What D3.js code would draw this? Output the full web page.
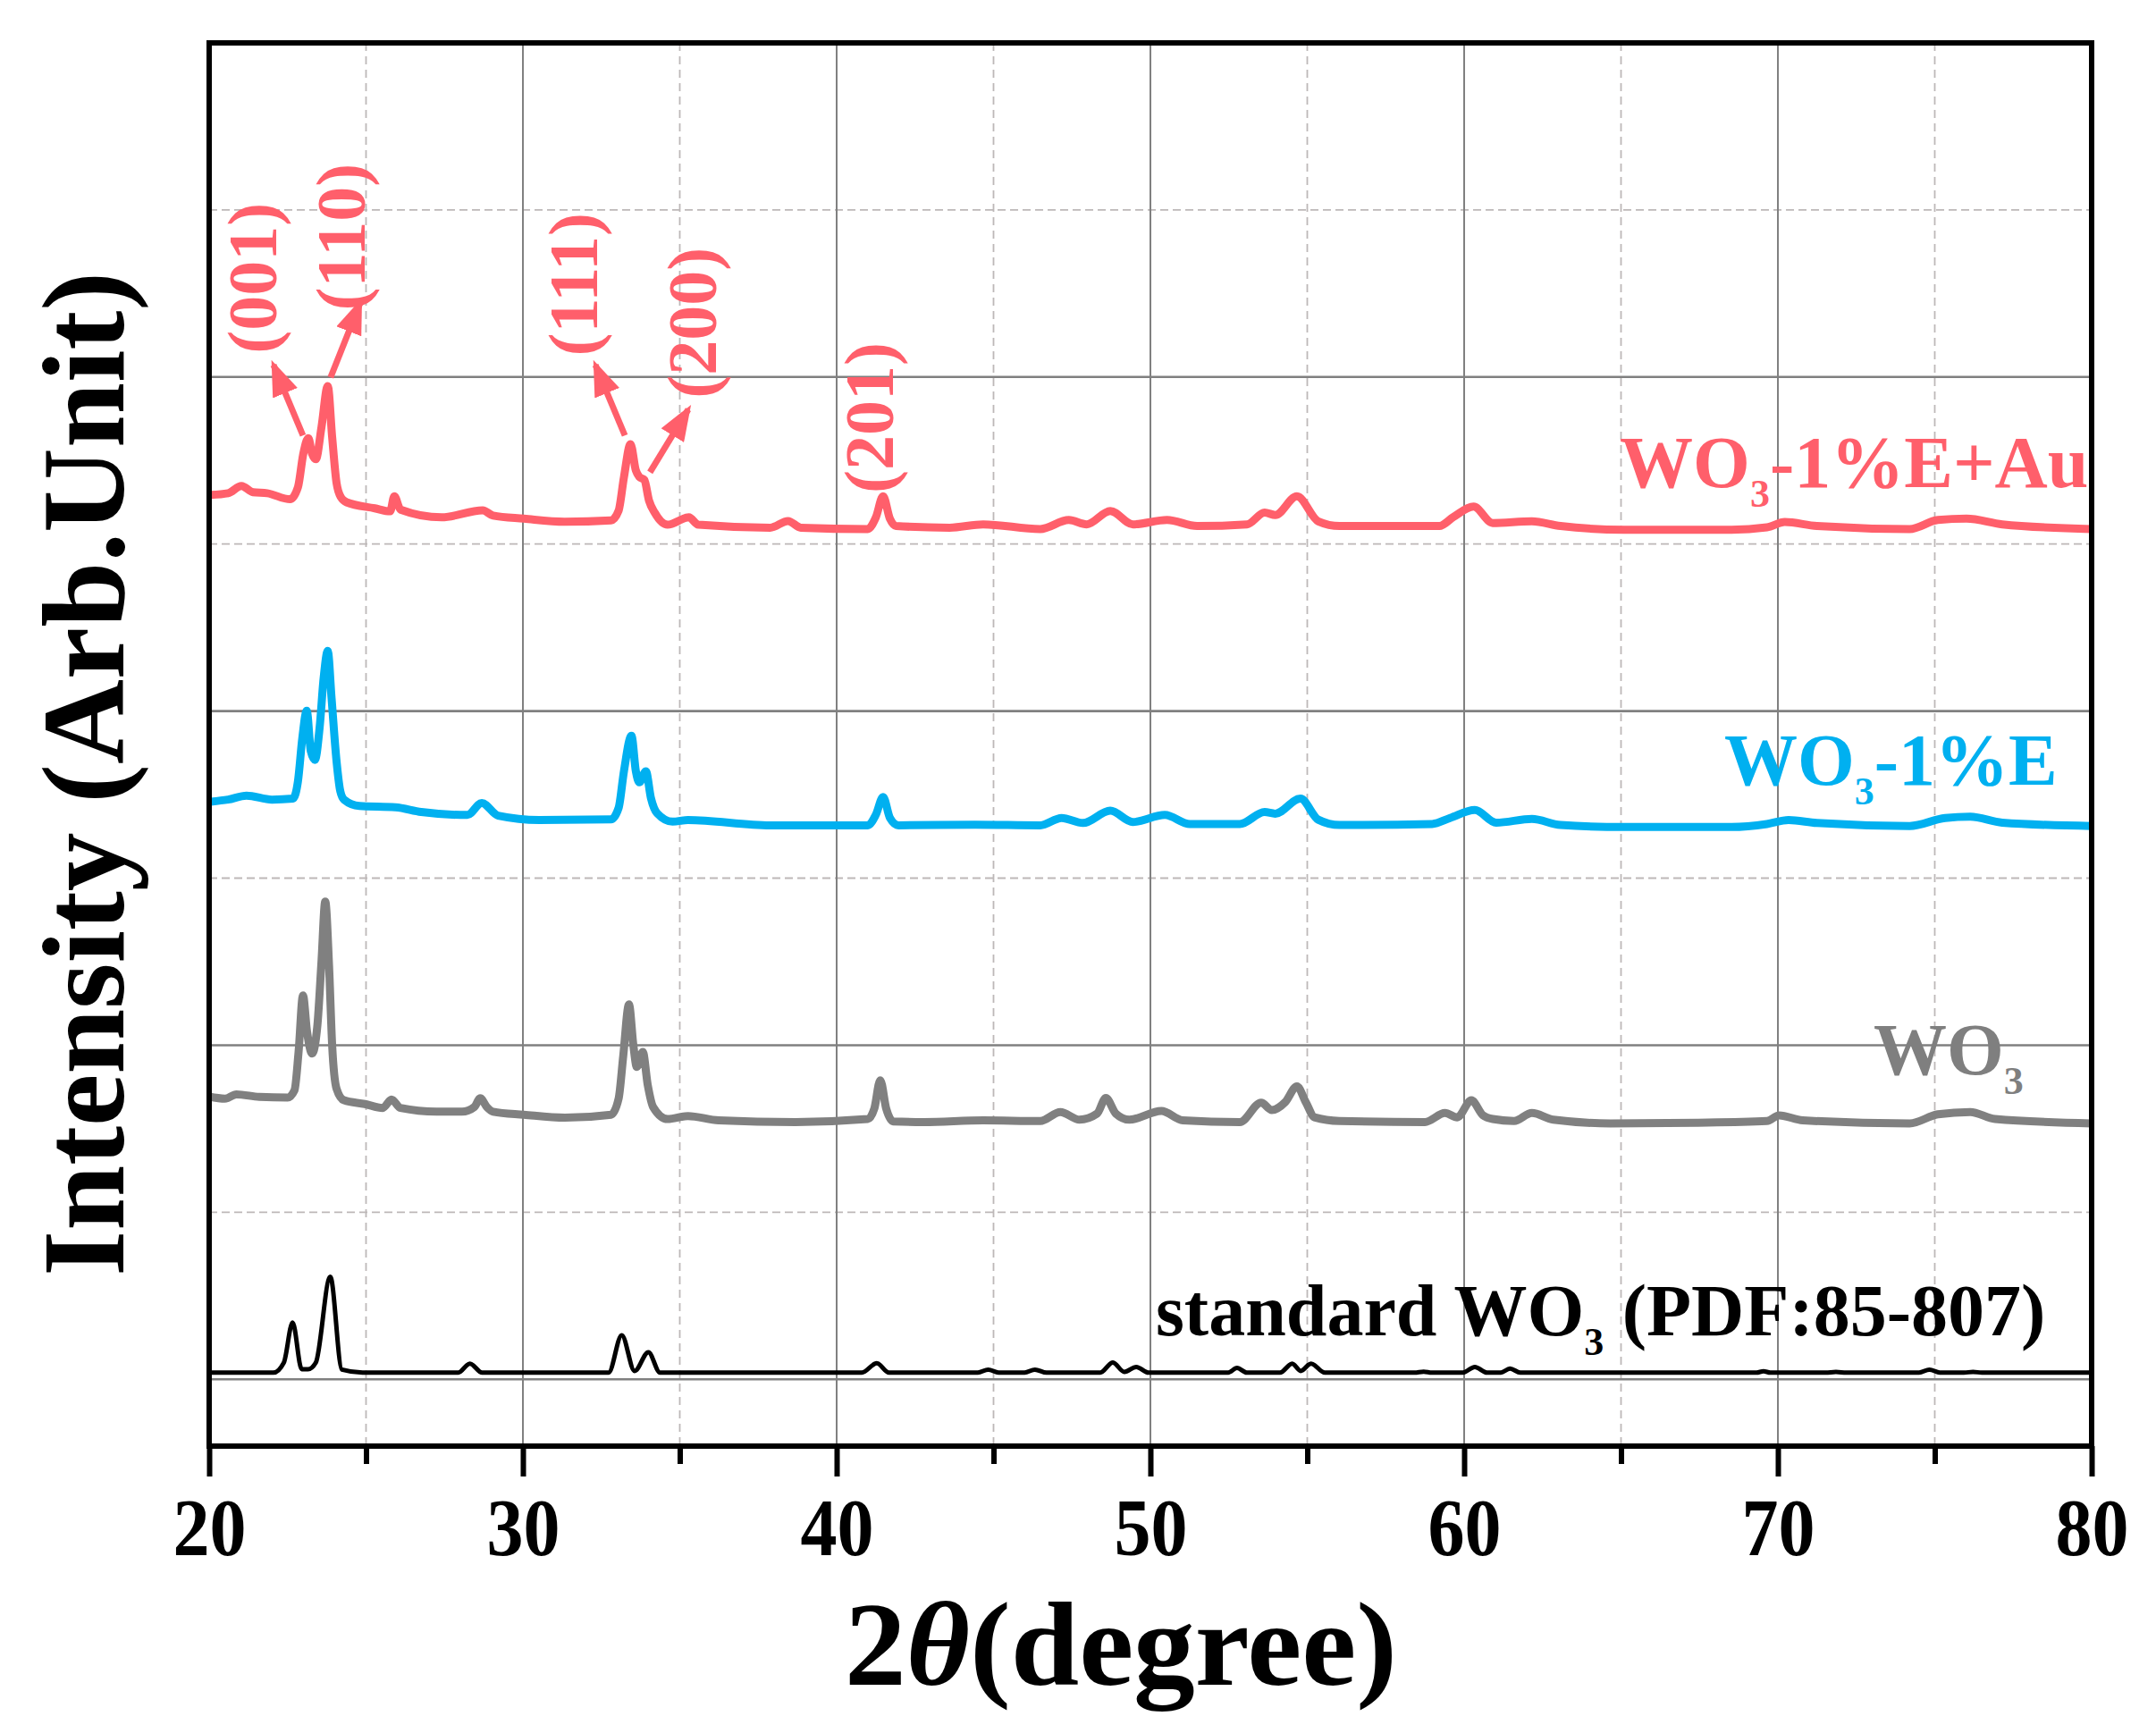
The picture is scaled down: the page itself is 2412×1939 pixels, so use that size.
<!DOCTYPE html>
<html>
<head>
<meta charset="utf-8">
<script src="https://cdn.jsdelivr.net/npm/d3@7"></script>
<style>
  body { margin: 0; background: #fff; }
  text { font-family: "Liberation Serif", "Times New Roman", serif; font-weight: bold; }
</style>
</head>
<body>
<svg id="chart" width="2412" height="1939"></svg>
<script>
// 2theta (degree) vs stacked intensity (arb. unit)
const xTicks = [20, 30, 40, 50, 60, 70, 80];
const xMinorTicks = [25, 35, 45, 55, 65, 75];
const yMajorGrid = [0, 1, 2, 3];
const yMinorGrid = [0.5, 1.5, 2.5, 3.5];

const standardWO3 = [
  [20, 0.02], [22.05, 0.02], [22.38, 0.05], [22.66, 0.17], [22.95, 0.03], [23.15, 0.03], [23.4, 0.05],
  [23.86, 0.307], [24.23, 0.029], [24.89, 0.02], [27.94, 0.02], [28.31, 0.047], [28.7, 0.02],
  [32.73, 0.02], [33.15, 0.132], [33.56, 0.025], [34.0, 0.081], [34.37, 0.02], [40.8, 0.02],
  [41.28, 0.048], [41.67, 0.02], [44.5, 0.02], [44.83, 0.029], [45.16, 0.02], [45.99, 0.02],
  [46.32, 0.029], [46.69, 0.02], [48.4, 0.02], [48.8, 0.05], [49.17, 0.022], [49.55, 0.037],
  [49.94, 0.02], [52.48, 0.02], [52.76, 0.034], [53.07, 0.02], [54.13, 0.02], [54.52, 0.047],
  [54.79, 0.025], [55.12, 0.047], [55.56, 0.02], [58.42, 0.02], [58.71, 0.023], [58.97, 0.02],
  [59.96, 0.02], [60.34, 0.037], [60.73, 0.02], [61.17, 0.02], [61.46, 0.032], [61.79, 0.02],
  [69.32, 0.02], [69.54, 0.024], [69.76, 0.02], [71.52, 0.02], [71.85, 0.022], [72.18, 0.02],
  [74.5, 0.02], [74.83, 0.029], [75.16, 0.02], [75.93, 0.02], [76.22, 0.022], [76.5, 0.02], [80, 0.02]
];

const pureWO3 = [
  [20.0, 0.846], [20.5, 0.840], [20.87, 0.853], [21.6, 0.845], [22.5, 0.843], [22.72, 0.865],
  [22.85, 0.98], [22.99, 1.149], [23.12, 1.04], [23.28, 0.975], [23.45, 1.06], [23.58, 1.25],
  [23.70, 1.430], [23.82, 1.24], [23.92, 1.0], [24.06, 0.87], [24.30, 0.835], [24.96, 0.824],
  [25.53, 0.812], [25.81, 0.837], [26.1, 0.812], [27.25, 0.801], [28.06, 0.801], [28.45, 0.815],
  [28.64, 0.841], [28.85, 0.815], [29.05, 0.801], [30.03, 0.792], [31.34, 0.783], [32.81, 0.792],
  [33.05, 0.84], [33.2, 0.97], [33.38, 1.122], [33.52, 1.0], [33.63, 0.935], [33.82, 0.98],
  [33.98, 0.88], [34.15, 0.815], [34.61, 0.779], [35.26, 0.788], [36.24, 0.775], [38.69, 0.770],
  [40.99, 0.779], [41.2, 0.81], [41.39, 0.895], [41.58, 0.81], [41.8, 0.772], [42.78, 0.770],
  [44.67, 0.775], [46.49, 0.773], [47.13, 0.80], [47.74, 0.777], [48.3, 0.795], [48.58, 0.842],
  [48.9, 0.795], [49.33, 0.777], [50.35, 0.803], [51.03, 0.775], [52.85, 0.770], [53.53, 0.828],
  [53.87, 0.806], [54.3, 0.83], [54.67, 0.877], [54.95, 0.83], [55.23, 0.784], [56.03, 0.773],
  [58.75, 0.770], [59.39, 0.797], [59.78, 0.784], [60.23, 0.835], [60.6, 0.79], [60.91, 0.779],
  [61.59, 0.773], [62.16, 0.797], [62.84, 0.777], [64.66, 0.766], [67.38, 0.768], [69.65, 0.773],
  [70.04, 0.79], [70.79, 0.775], [74.2, 0.766], [75.1, 0.793], [76.13, 0.80], [76.92, 0.779],
  [80.0, 0.766]
];

const wo3E = [
  [20.05, 1.729], [20.6, 1.735], [21.19, 1.747], [22.0, 1.735], [22.67, 1.738], [22.83, 1.79],
  [22.97, 1.92], [23.11, 2.001], [23.24, 1.88], [23.37, 1.854], [23.52, 1.95], [23.65, 2.1],
  [23.78, 2.18], [23.9, 2.04], [24.06, 1.85], [24.18, 1.76], [24.30, 1.735], [24.79, 1.716],
  [25.94, 1.712], [26.76, 1.698], [28.23, 1.689], [28.69, 1.725], [29.21, 1.687], [30.52, 1.674],
  [32.81, 1.676], [33.05, 1.71], [33.22, 1.82], [33.46, 1.926], [33.6, 1.82], [33.71, 1.787],
  [33.92, 1.82], [34.08, 1.74], [34.28, 1.694], [34.77, 1.669], [35.26, 1.674], [37.88, 1.658],
  [40.99, 1.658], [41.25, 1.69], [41.48, 1.743], [41.7, 1.68], [41.97, 1.658], [44.42, 1.66],
  [46.49, 1.658], [47.17, 1.68], [47.85, 1.665], [48.72, 1.702], [49.44, 1.668], [50.46, 1.689],
  [51.26, 1.662], [52.85, 1.662], [53.64, 1.698], [53.98, 1.693], [54.78, 1.738], [55.35, 1.675],
  [56.03, 1.659], [58.98, 1.662], [59.55, 1.68], [60.34, 1.704], [61.02, 1.666], [62.16, 1.677],
  [63.07, 1.659], [65.11, 1.653], [68.52, 1.653], [69.65, 1.662], [70.34, 1.674], [71.24, 1.665],
  [74.2, 1.656], [75.33, 1.68], [76.13, 1.684], [77.15, 1.666], [80.0, 1.656]
];

const wo3EAu = [
  [20.05, 2.647], [20.6, 2.652], [21.03, 2.674], [21.4, 2.655], [21.85, 2.652], [22.58, 2.634],
  [22.83, 2.67], [23.0, 2.77], [23.16, 2.817], [23.28, 2.77], [23.40, 2.754], [23.58, 2.85],
  [23.78, 2.973], [23.92, 2.82], [24.06, 2.683], [24.2, 2.64], [24.38, 2.625], [25.28, 2.607],
  [25.77, 2.598], [25.9, 2.643], [26.10, 2.603], [27.41, 2.58], [28.72, 2.601], [29.05, 2.585],
  [30.03, 2.576], [31.33, 2.567], [32.81, 2.571], [33.05, 2.6], [33.22, 2.7], [33.43, 2.799],
  [33.6, 2.72], [33.71, 2.701], [33.87, 2.692], [34.02, 2.63], [34.20, 2.594], [34.61, 2.558],
  [35.29, 2.58], [35.59, 2.558], [37.88, 2.549], [38.45, 2.569], [38.86, 2.549], [40.99, 2.545],
  [41.25, 2.58], [41.48, 2.643], [41.7, 2.575], [41.89, 2.554], [43.6, 2.549], [44.67, 2.559],
  [46.49, 2.545], [47.4, 2.572], [47.97, 2.559], [48.72, 2.599], [49.44, 2.559], [50.53, 2.572],
  [51.49, 2.554], [53.08, 2.559], [53.64, 2.594], [53.98, 2.587], [54.67, 2.643], [55.35, 2.568],
  [56.03, 2.554], [59.21, 2.554], [59.66, 2.581], [60.3, 2.612], [60.91, 2.563], [62.16, 2.568],
  [63.07, 2.554], [65.11, 2.543], [68.52, 2.543], [69.65, 2.55], [70.22, 2.566], [71.24, 2.554],
  [74.2, 2.545], [75.1, 2.572], [76.01, 2.576], [77.15, 2.559], [80.0, 2.545]
];

// series labels: main text, subscript, rest, anchor (x deg, y unit)
const seriesLabels = [
  { pre: "WO", sub: "3", post: "-1%E+Au", x: 64.96, y: 2.67, color: "#ff5f6b" },
  { pre: "WO", sub: "3", post: "-1%E", x: 68.29, y: 1.779, color: "#00b0f0" },
  { pre: "WO", sub: "3", post: "", x: 73.05, y: 0.912, color: "#7f7f7f" },
  { pre: "standard WO", sub: "3", post: " (PDF:85-807)", x: 50.17, y: 0.131, color: "#000" }
];

// Miller index annotations on the WO3-1%E+Au pattern
const peakLabels = [
  { text: "(001)", x: 22.14, y: 3.296 },
  { text: "(110)", x: 24.96, y: 3.419 },
  { text: "(111)", x: 32.36, y: 3.277 },
  { text: "(200)", x: 36.15, y: 3.162 },
  { text: "(201)", x: 41.79, y: 2.878 }
];
const peakArrows = [
  { from: [22.99, 2.825], to: [22.05, 3.036] },
  { from: [23.87, 2.999], to: [24.81, 3.221] },
  { from: [33.25, 2.825], to: [32.31, 3.036] },
  { from: [34.05, 2.715], to: [35.27, 2.903] }
];

const plotLeft = 234, plotRight = 2340, plotTop = 48, plotBottom = 1618;
const svg = d3.select("#chart");

const xScale = d3.scaleLinear().domain([20, 80]).range([plotLeft, plotRight]);
const yScale = d3.scaleLinear().domain([-0.2, 4]).range([plotBottom, plotTop]);

// grid
const grid = svg.append("g");
grid.selectAll(".vminor").data(xMinorTicks).enter().append("line")
  .attr("x1", d => xScale(d)).attr("x2", d => xScale(d))
  .attr("y1", plotTop).attr("y2", plotBottom)
  .attr("stroke", "#bdb8b8").attr("stroke-width", 1.8).attr("stroke-dasharray", "9,6");
grid.selectAll(".hminor").data(yMinorGrid).enter().append("line")
  .attr("x1", plotLeft).attr("x2", plotRight)
  .attr("y1", d => yScale(d)).attr("y2", d => yScale(d))
  .attr("stroke", "#bdb8b8").attr("stroke-width", 1.8).attr("stroke-dasharray", "9,5");
grid.selectAll(".vmajor").data(xTicks.slice(1, -1)).enter().append("line")
  .attr("x1", d => xScale(d)).attr("x2", d => xScale(d))
  .attr("y1", plotTop).attr("y2", plotBottom)
  .attr("stroke", "#808080").attr("stroke-width", 2);
grid.selectAll(".hmajor").data(yMajorGrid).enter().append("line")
  .attr("x1", plotLeft).attr("x2", plotRight)
  .attr("y1", d => yScale(d)).attr("y2", d => yScale(d))
  .attr("stroke", "#808080").attr("stroke-width", 2.6);

// patterns
const smooth = d3.line().x(d => xScale(d[0])).y(d => yScale(d[1])).curve(d3.curveMonotoneX);

svg.append("path").datum(standardWO3).attr("d", smooth)
  .attr("fill", "none").attr("stroke", "#000").attr("stroke-width", 5).attr("stroke-linejoin", "round");
[[pureWO3, "#808080"], [wo3E, "#00b0f0"], [wo3EAu, "#ff5f6b"]].forEach(([data, color]) => {
  svg.append("path").datum(data).attr("d", smooth)
    .attr("fill", "none").attr("stroke", color).attr("stroke-width", 9)
    .attr("stroke-linejoin", "round");
});

// frame
svg.append("rect").attr("x", plotLeft).attr("y", plotTop)
  .attr("width", plotRight - plotLeft).attr("height", plotBottom - plotTop)
  .attr("fill", "none").attr("stroke", "#000").attr("stroke-width", 6);

// x axis ticks
const xAxis = svg.append("g").attr("transform", `translate(0,${plotBottom})`)
  .call(d3.axisBottom(xScale).tickValues(xTicks).tickSize(34).tickFormat(d3.format("d")));
xAxis.select(".domain").remove();
xAxis.selectAll(".tick line").attr("stroke", "#000").attr("stroke-width", 6);
xAxis.selectAll(".tick text").attr("y", 122).attr("dy", null)
  .attr("font-size", 90).attr("fill", "#000")
  .attr("font-family", "'Liberation Serif', serif").attr("font-weight", "bold")
  .attr("textLength", 82).attr("lengthAdjust", "spacingAndGlyphs");

const xMinorAxis = svg.append("g").attr("transform", `translate(0,${plotBottom})`)
  .call(d3.axisBottom(xScale).tickValues(xMinorTicks).tickSize(20).tickFormat(""));
xMinorAxis.select(".domain").remove();
xMinorAxis.selectAll(".tick line").attr("stroke", "#000").attr("stroke-width", 6);

// axis titles
const xTitle = svg.append("text").attr("x", 945).attr("y", 1885)
  .attr("font-size", 134).attr("fill", "#000")
  .attr("textLength", 618).attr("lengthAdjust", "spacingAndGlyphs");
xTitle.append("tspan").text("2");
xTitle.append("tspan").attr("font-style", "italic").text("θ");
xTitle.append("tspan").text("(degree)");

svg.append("text")
  .attr("transform", "translate(138,866) rotate(-90)")
  .attr("text-anchor", "middle").attr("font-size", 132).attr("fill", "#000")
  .attr("font-family", "'Liberation Serif', serif")
  .attr("textLength", 1124).attr("lengthAdjust", "spacingAndGlyphs")
  .text("Intensity (Arb.Unit)");

// series labels
seriesLabels.forEach(l => {
  const t = svg.append("text").attr("x", xScale(l.x)).attr("y", yScale(l.y))
    .attr("font-size", 82).attr("fill", l.color);
  t.append("tspan").text(l.pre);
  t.append("tspan").attr("font-size", 44).attr("dy", 22).text(l.sub);
  if (l.post) t.append("tspan").attr("dy", -22).text(l.post);
});

// peak annotations
const red = "#ff5f6b";
svg.append("defs").append("marker")
  .attr("id", "head").attr("markerUnits", "userSpaceOnUse")
  .attr("viewBox", "0 0 40 30").attr("refX", 34).attr("refY", 15)
  .attr("markerWidth", 40).attr("markerHeight", 30).attr("orient", "auto")
  .append("path").attr("d", "M0,0 L40,15 L0,30 Z").attr("fill", red);

svg.selectAll(".arrow").data(peakArrows).enter().append("line")
  .attr("x1", d => xScale(d.from[0])).attr("y1", d => yScale(d.from[1]))
  .attr("x2", d => xScale(d.to[0])).attr("y2", d => yScale(d.to[1]))
  .attr("stroke", red).attr("stroke-width", 7).attr("marker-end", "url(#head)");

svg.selectAll(".peak").data(peakLabels).enter().append("text")
  .attr("transform", d => `translate(${xScale(d.x)},${yScale(d.y)}) rotate(-90)`)
  .attr("text-anchor", "middle").attr("font-size", 78).attr("fill", red)
  .text(d => d.text);
</script>
</body>
</html>
